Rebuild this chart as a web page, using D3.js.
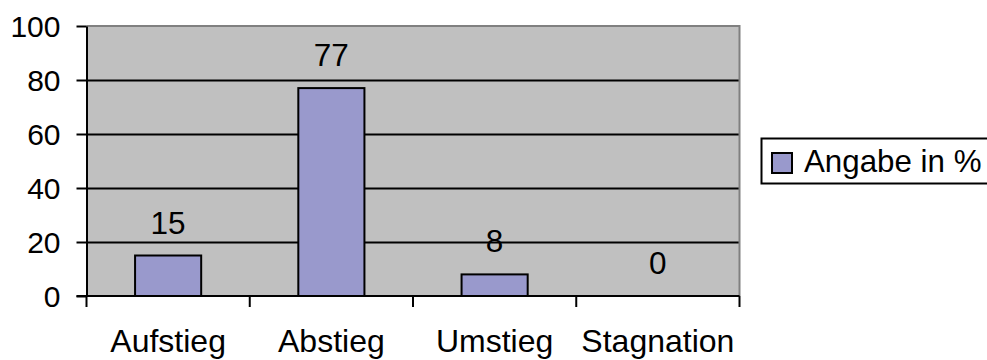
<!DOCTYPE html>
<html>
<head>
<meta charset="utf-8">
<script src="https://cdn.jsdelivr.net/npm/d3@7"></script>
<style>
  html, body { margin: 0; padding: 0; background: #fff; }
  svg { display: block; font-family: "Liberation Sans", Arial, sans-serif; }
</style>
</head>
<body>
<svg id="chart" width="987" height="360"></svg>
<script>
// Verteilung der Antworten (Angabe in %)
const categories = ["Aufstieg", "Abstieg", "Umstieg", "Stagnation"];
const values = [15, 77, 8, 0];
const yTicks = [0, 20, 40, 60, 80, 100];
const seriesName = "Angabe in %";

const svg = d3.select("#chart");
const plot = { left: 86.5, right: 739.5, top: 26, bottom: 296 };
const tickFont = 30;
const labelFont = 31.5;
const catFont = 32;
const legendFont = 31.3;
const barFill = "#9999cc";

const x = d3.scaleBand()
  .domain(categories)
  .range([plot.left, plot.right])
  .paddingInner(0)
  .paddingOuter(0);

const y = d3.scaleLinear()
  .domain([0, 100])
  .range([plot.bottom, plot.top]);

// plot background
svg.append("rect")
  .attr("x", plot.left)
  .attr("y", plot.top)
  .attr("width", plot.right - plot.left)
  .attr("height", plot.bottom - plot.top)
  .attr("fill", "#c0c0c0");

// horizontal gridlines
svg.append("g")
  .selectAll("line")
  .data(yTicks.filter(t => t > 0 && t < 100))
  .join("line")
  .attr("x1", plot.left)
  .attr("x2", plot.right)
  .attr("y1", d => Math.round(y(d)) + 0.5)
  .attr("y2", d => Math.round(y(d)) + 0.5)
  .attr("stroke", "#000")
  .attr("stroke-width", 2);

// grey frame on top and right
svg.append("path")
  .attr("d", `M${plot.left},${plot.top} H${plot.right} V${plot.bottom}`)
  .attr("fill", "none")
  .attr("stroke", "#808080")
  .attr("stroke-width", 2);

// bars
const bw = x.bandwidth() * 0.405;
svg.append("g")
  .selectAll("rect")
  .data(categories.map((c, i) => ({ c, v: values[i] })))
  .join("rect")
  .attr("x", d => x(d.c) + (x.bandwidth() - bw) / 2)
  .attr("y", d => y(d.v))
  .attr("width", bw)
  .attr("height", d => y(0) - y(d.v))
  .attr("fill", barFill)
  .attr("stroke", "#000")
  .attr("stroke-width", d => d.v > 0 ? 2 : 0);

// value labels
svg.append("g")
  .selectAll("text")
  .data(categories.map((c, i) => ({ c, v: values[i] })))
  .join("text")
  .attr("x", d => x(d.c) + x.bandwidth() / 2)
  .attr("y", d => y(d.v) - 22)
  .attr("text-anchor", "middle")
  .attr("font-size", labelFont)
  .attr("fill", "#000")
  .text(d => d.v);

// y axis
const yAxis = svg.append("g")
  .attr("transform", `translate(${plot.left},0)`)
  .call(d3.axisLeft(y).tickValues(yTicks).tickSize(10).tickPadding(16).tickSizeOuter(0));
yAxis.select(".domain").attr("stroke", "#000").attr("stroke-width", 2);
yAxis.selectAll(".tick line").attr("stroke", "#000").attr("stroke-width", 2);
yAxis.selectAll(".tick text")
  .attr("font-size", tickFont)
  .attr("font-family", "Liberation Sans, Arial, sans-serif")
  .attr("fill", "#000")
  .attr("dy", "0.36em");

// x axis: ticks at band boundaries, labels centred in bands
const xg = svg.append("g").attr("transform", `translate(0,${plot.bottom})`);
xg.append("line")
  .attr("x1", plot.left - 10)
  .attr("x2", plot.right)
  .attr("stroke", "#000")
  .attr("stroke-width", 2);
const boundaries = categories.map(c => x(c)).concat([x(categories[categories.length - 1]) + x.bandwidth()]);
xg.selectAll("line.tick")
  .data(boundaries)
  .join("line")
  .attr("class", "tick")
  .attr("x1", d => d)
  .attr("x2", d => d)
  .attr("y1", 0)
  .attr("y2", 11)
  .attr("stroke", "#000")
  .attr("stroke-width", 2);
xg.selectAll("text")
  .data(categories)
  .join("text")
  .attr("x", d => x(d) + x.bandwidth() / 2)
  .attr("y", 56)
  .attr("text-anchor", "middle")
  .attr("font-size", catFont)
  .attr("fill", "#000")
  .text(d => d);

// legend
const lg = svg.append("g").attr("transform", "translate(761,138)");
lg.append("rect")
  .attr("x", 0.5)
  .attr("y", 0.5)
  .attr("width", 260)
  .attr("height", 45)
  .attr("fill", "#fff")
  .attr("stroke", "#000")
  .attr("stroke-width", 2);
lg.append("rect")
  .attr("x", 11)
  .attr("y", 15)
  .attr("width", 20)
  .attr("height", 20)
  .attr("fill", barFill)
  .attr("stroke", "#000")
  .attr("stroke-width", 2);
lg.append("text")
  .attr("x", 43)
  .attr("y", 34)
  .attr("font-size", legendFont)
  .attr("fill", "#000")
  .text(seriesName);
</script>
</body>
</html>
